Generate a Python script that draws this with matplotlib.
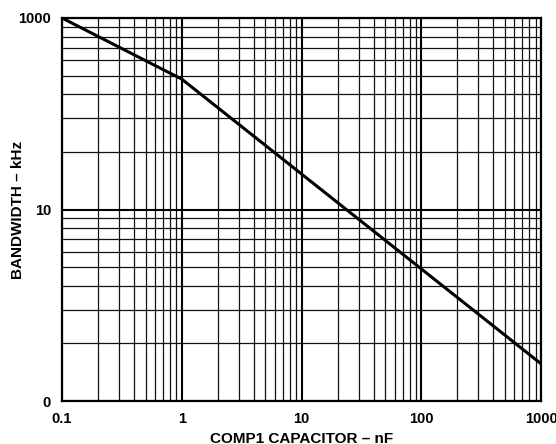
import matplotlib
matplotlib.use("Agg")
import matplotlib.pyplot as plt
from matplotlib.ticker import LogLocator, NullFormatter, FixedLocator

cap_nf = [0.1, 1, 1000]
bw_khz = [1000, 230, 0.245]
x_ticks = [0.1, 1, 10, 100, 1000]
x_labels = ["0.1", "1", "10", "100", "1000"]
y_ticks = [0.1, 10, 1000]
y_labels = ["0", "10", "1000"]

plt.rcParams['font.family'] = ['Liberation Sans', 'DejaVu Sans']
plt.rcParams['font.weight'] = 'bold'

fig = plt.figure(figsize=(5.56, 4.44), dpi=100)
ax = fig.add_axes([62/556, 1-401/444, (541-62)/556, (401-18)/444])
ax.set_xscale('log')
ax.set_yscale('log')
ax.set_xlim(0.1, 1000)
ax.set_ylim(0.1, 1000)

# x: standard log grid; y: each labelled interval is drawn as one log "decade"
ax.xaxis.set_minor_locator(LogLocator(base=10, subs=range(2, 10), numticks=50))
y_minor = [b * k ** 2 for b in (0.1, 10) for k in range(2, 10)]
ax.yaxis.set_minor_locator(FixedLocator(y_minor))
ax.xaxis.set_minor_formatter(NullFormatter())
ax.yaxis.set_minor_formatter(NullFormatter())
ax.grid(True, which='minor', color='#111111', linewidth=0.9)
ax.xaxis.set_major_locator(FixedLocator(x_ticks))
ax.yaxis.set_major_locator(FixedLocator(y_ticks))
ax.grid(True, which='major', color='#000000', linewidth=1.5)

ax.plot(cap_nf, bw_khz, color='black', linewidth=2.2, zorder=5)

ax.set_xticks(x_ticks)
ax.set_xticklabels(x_labels)
ax.set_yticks(y_ticks)
ax.set_yticklabels(y_labels)
ax.set_xlim(0.1, 1000)
ax.set_ylim(0.1, 1000)
ax.tick_params(which='both', length=0)
ax.tick_params(axis='x', pad=8, labelsize=10.5)
ax.tick_params(axis='y', pad=8, labelsize=10.5)
for s in ax.spines.values():
    s.set_linewidth(1.6)
    s.set_color('black')

ax.set_xlabel("COMP1 CAPACITOR – nF", fontsize=11, fontweight='bold')
ax.xaxis.set_label_coords(0.5, -0.081)
ax.xaxis.label.set_va('top')
ax.set_ylabel("BANDWIDTH – kHz", fontsize=11, fontweight='bold')
ax.yaxis.set_label_coords(-0.092, 0.5)
ax.yaxis.label.set_va('center')

fig.savefig("out.png", dpi=100)
